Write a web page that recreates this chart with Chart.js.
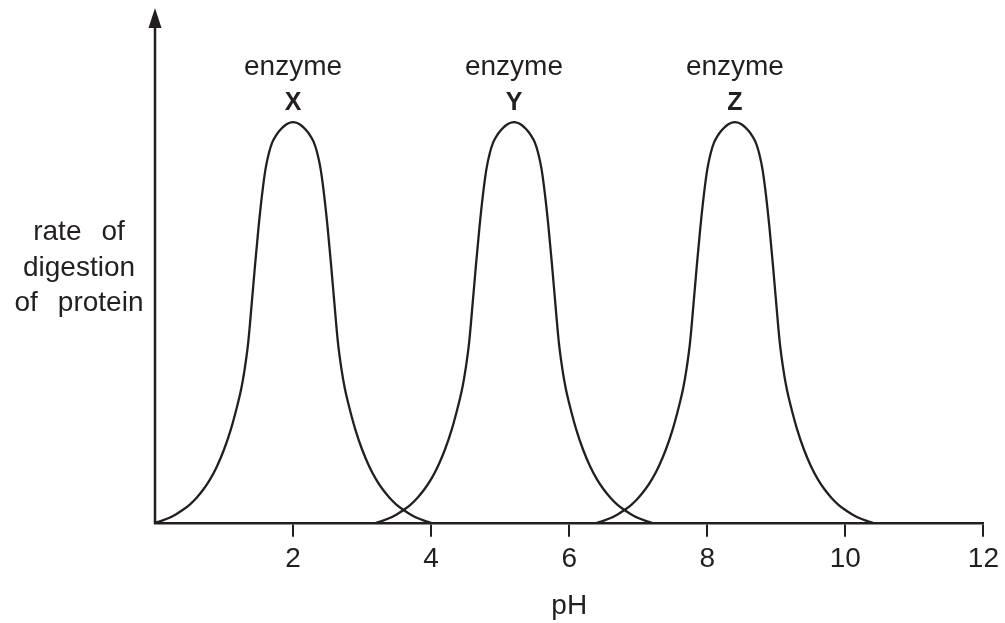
<!DOCTYPE html>
<html>
<head>
<meta charset="utf-8">
<script src="https://cdn.jsdelivr.net/npm/chart.js@4.4.1/dist/chart.umd.min.js"></script>
<style>
  html, body { margin: 0; padding: 0; background: #ffffff; }
  #wrap { width: 1005px; height: 623px; position: relative; }
</style>
</head>
<body>
<div id="wrap"><canvas id="c" width="1005" height="623"></canvas></div>
<script>
// ---- data ----
const phX   = [0, 0.1, 0.2, 0.3, 0.4, 0.5, 0.6, 0.7, 0.8, 0.9, 1.0, 1.1, 1.2, 1.25, 1.3, 1.35, 1.4, 1.45, 1.5, 1.55,
               1.6, 1.65, 1.7, 1.75, 1.8, 1.85, 1.9, 1.95, 2.0,
               2.05, 2.1, 2.15, 2.2, 2.25, 2.3, 2.35, 2.4, 2.45, 2.5, 2.55, 2.6, 2.65, 2.7, 2.75, 2.8,
               2.9, 3.0, 3.1, 3.2, 3.3, 3.4, 3.5, 3.6, 3.7, 3.8, 3.9, 4.0];
const phY   = [3.2, 3.3, 3.4, 3.5, 3.6, 3.7, 3.8, 3.9, 4.0, 4.1, 4.2, 4.3, 4.4, 4.45, 4.5, 4.55, 4.6, 4.65, 4.7, 4.75,
               4.8, 4.85, 4.9, 4.95, 5.0, 5.05, 5.1, 5.15, 5.2,
               5.25, 5.3, 5.35, 5.4, 5.45, 5.5, 5.55, 5.6, 5.65, 5.7, 5.75, 5.8, 5.85, 5.9, 5.95, 6.0,
               6.1, 6.2, 6.3, 6.4, 6.5, 6.6, 6.7, 6.8, 6.9, 7.0, 7.1, 7.2];
const phZ   = [6.4, 6.5, 6.6, 6.7, 6.8, 6.9, 7.0, 7.1, 7.2, 7.3, 7.4, 7.5, 7.6, 7.65, 7.7, 7.75, 7.8, 7.85, 7.9, 7.95,
               8.0, 8.05, 8.1, 8.15, 8.2, 8.25, 8.3, 8.35, 8.4,
               8.45, 8.5, 8.55, 8.6, 8.65, 8.7, 8.75, 8.8, 8.85, 8.9, 8.95, 9.0, 9.05, 9.1, 9.15, 9.2,
               9.3, 9.4, 9.5, 9.6, 9.7, 9.8, 9.9, 10.0, 10.1, 10.2, 10.3, 10.4];
const rateX = [0, 0.055, 0.12, 0.21, 0.32, 0.45, 0.62, 0.83, 1.09, 1.42, 1.83, 2.34, 2.98, 3.35, 3.85, 4.5, 5.45, 6.45, 7.38, 8.18,
               8.82, 9.23, 9.5, 9.66, 9.78, 9.87, 9.94, 9.985, 10,
               9.985, 9.94, 9.87, 9.78, 9.66, 9.5, 9.23, 8.82, 8.18, 7.38, 6.45, 5.45, 4.5, 3.85, 3.35, 2.98,
               2.34, 1.83, 1.42, 1.09, 0.83, 0.62, 0.45, 0.32, 0.21, 0.12, 0.055, 0];
const rateY = [0, 0.055, 0.12, 0.21, 0.32, 0.45, 0.62, 0.83, 1.09, 1.42, 1.83, 2.34, 2.98, 3.35, 3.85, 4.5, 5.45, 6.45, 7.38, 8.18,
               8.82, 9.23, 9.5, 9.66, 9.78, 9.87, 9.94, 9.985, 10,
               9.985, 9.94, 9.87, 9.78, 9.66, 9.5, 9.23, 8.82, 8.18, 7.38, 6.45, 5.45, 4.5, 3.85, 3.35, 2.98,
               2.34, 1.83, 1.42, 1.09, 0.83, 0.62, 0.45, 0.32, 0.21, 0.12, 0.055, 0];
const rateZ = [0, 0.055, 0.12, 0.21, 0.32, 0.45, 0.62, 0.83, 1.09, 1.42, 1.83, 2.34, 2.98, 3.35, 3.85, 4.5, 5.45, 6.45, 7.38, 8.18,
               8.82, 9.23, 9.5, 9.66, 9.78, 9.87, 9.94, 9.985, 10,
               9.985, 9.94, 9.87, 9.78, 9.66, 9.5, 9.23, 8.82, 8.18, 7.38, 6.45, 5.45, 4.5, 3.85, 3.35, 2.98,
               2.34, 1.83, 1.42, 1.09, 0.83, 0.62, 0.45, 0.32, 0.21, 0.12, 0.055, 0];
const enzymeNames = ['X', 'Y', 'Z'];
const enzymeOptimumPH = [2, 5.2, 8.4];
const xTickValues = [2, 4, 6, 8, 10, 12];
const xAxisTitle = 'pH';
const yAxisTitleLines = ['rate of', 'digestion', 'of protein'];
const enzymeWord = 'enzyme';

// ---- styling ----
const INK = '#231f20';
const FONT = '"Liberation Sans", Arial, Helvetica, sans-serif';
const FS = 28;

function pts(xs, ys) { return xs.map((x, i) => ({ x: x, y: ys[i] })); }

const mkSet = (label, xs, ys) => ({
  label: label,
  data: pts(xs, ys),
  borderColor: INK,
  borderWidth: 2.3,
  pointRadius: 0,
  fill: false,
  showLine: true,
  cubicInterpolationMode: 'monotone'
});

function drawSpacedLine(ctx, text, cx, y, gap) {
  const words = text.split(' ');
  const widths = words.map(w => ctx.measureText(w).width);
  const total = widths.reduce((s, w) => s + w, 0) + gap * (words.length - 1);
  let x = cx - total / 2;
  ctx.textAlign = 'left';
  words.forEach((w, i) => { ctx.fillText(w, x, y); x += widths[i] + gap; });
}

const decor = {
  id: 'decor',
  afterDraw(chart) {
    const ctx = chart.ctx;
    const a = chart.chartArea;
    const xs = chart.scales.x, ys = chart.scales.y;
    ctx.save();
    // y axis with arrow
    ctx.strokeStyle = INK;
    ctx.fillStyle = INK;
    ctx.lineWidth = 2.5;
    ctx.beginPath();
    ctx.moveTo(a.left, a.bottom + 1.2);
    ctx.lineTo(a.left, a.top + 4);
    ctx.stroke();
    ctx.beginPath();
    ctx.moveTo(a.left, a.top - 14);
    ctx.lineTo(a.left - 6.5, a.top + 6);
    ctx.lineTo(a.left + 6.5, a.top + 6);
    ctx.closePath();
    ctx.fill();

    // enzyme labels
    ctx.textAlign = 'center';
    ctx.textBaseline = 'alphabetic';
    enzymeNames.forEach((n, i) => {
      const px = xs.getPixelForValue(enzymeOptimumPH[i]);
      ctx.font = FS + 'px ' + FONT;
      ctx.fillText(enzymeWord, px, ys.getPixelForValue(11.18));
      ctx.font = 'bold 25px ' + FONT;
      ctx.fillText(n, px, ys.getPixelForValue(10.3));
    });

    // y axis title (horizontal, three lines)
    ctx.font = FS + 'px ' + FONT;
    ctx.textBaseline = 'middle';
    const cx = a.left - 76;
    const ly = [232, 268, 303];
    yAxisTitleLines.forEach((t, i) => drawSpacedLine(ctx, t, cx, ly[i], 20));
    ctx.restore();
  }
};

new Chart(document.getElementById('c'), {
  type: 'line',
  data: {
    datasets: [
      mkSet('enzyme X', phX, rateX),
      mkSet('enzyme Y', phY, rateY),
      mkSet('enzyme Z', phZ, rateZ)
    ]
  },
  options: {
    responsive: false,
    animation: false,
    devicePixelRatio: 1,
    layout: { padding: { left: 155, right: 18, top: 22, bottom: 0 } },
    plugins: { legend: { display: false }, tooltip: { enabled: false } },
    scales: {
      x: {
        type: 'linear',
        min: 0,
        max: 12,
        afterBuildTicks(scale) { scale.ticks = xTickValues.map(v => ({ value: v })); },
        ticks: {
          color: INK,
          font: { family: FONT, size: FS },
          padding: 6,
          maxRotation: 0,
          autoSkip: false
        },
        grid: {
          display: true,
          drawOnChartArea: false,
          drawTicks: true,
          tickLength: 14,
          lineWidth: 2,
          color: INK
        },
        border: { display: true, color: INK, width: 2.5 },
        title: {
          display: true,
          text: xAxisTitle,
          color: INK,
          font: { family: FONT, size: FS },
          padding: { top: 7, bottom: 0 }
        }
      },
      y: {
        display: false,
        min: 0,
        max: 12.5
      }
    }
  },
  plugins: [decor]
});
</script>
</body>
</html>
